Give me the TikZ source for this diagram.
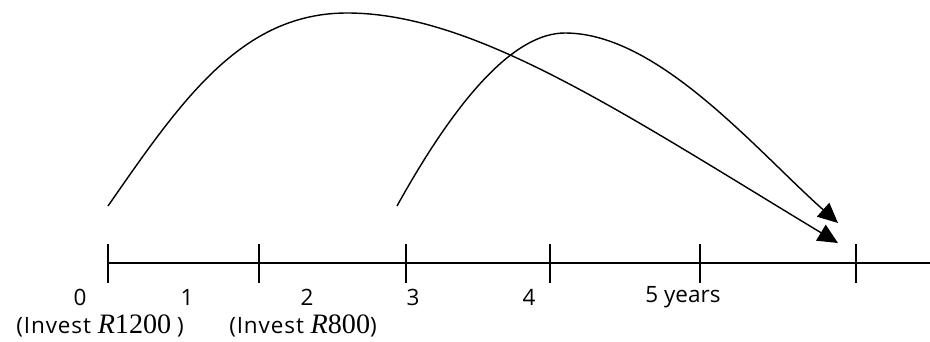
\documentclass[tikz,border=0pt]{standalone}
\usepackage{fontspec}
\setmainfont{Open Sans}
\newfontfamily\amountfont{Liberation Serif}
\newfontfamily\investfont{Open Sans}[LetterSpace=4]
\newcommand{\amount}[1]{{\fontsize{20}{22}\selectfont\amountfont\textit{R}#1}}
\usetikzlibrary{positioning,arrows.meta}

\begin{document}
\begin{tikzpicture}[
  x=0.025cm, y=-0.025cm,
  every node/.style={font=\fontsize{16}{19}\selectfont, inner sep=0pt},
  axisline/.style={line width=1pt, draw=black},
  tick/.style={line width=1pt, draw=black},
  flow/.style={line width=1pt, draw=black, -{Triangle[length=5mm, width=4.6mm]}}
]
\useasboundingbox (0,0) rectangle (930,342);
% time line
\coordinate (t0) at (108,263);
\coordinate (t1) at (259,263);
\coordinate (t2) at (406,263);
\coordinate (t3) at (550,263);
\coordinate (t4) at (700,263);
\coordinate (t5) at (856,263);
\coordinate (tend) at (930,263);
\draw[axisline] (t0) -- (tend);
\foreach \t in {t0,t1,t2,t3,t4,t5}
  \draw[tick] ([yshift=0.475cm]\t) -- ([yshift=-0.5cm]\t);
% labels
\node (l0) at (80,297) {0};
\node (l1) at (187,297) {1};
\node (l2) at (307,297) {2};
\node (l3) at (413,297) {3};
\node (l4) at (529,297) {4};
\node (l5) at (683,297) {5 years};
\node (inv1) at (100,326) {{\investfont(Invest\ }\amount{1200}\ )};
\node (inv2) at (303,326) {{\investfont(Invest\ }\amount{800})};
% growth arcs
\coordinate (s1) at (108,206);
\coordinate (top1) at (347,13);
\coordinate (e1) at (838,243);
\coordinate (s2) at (397,206);
\coordinate (top2) at (565,33);
\coordinate (e2) at (838,223);
\draw[flow] (s1) .. controls (181,101) and (241,13) .. (top1)
  .. controls (475,13) and (623,113) .. (e1);
\draw[flow] (s2) .. controls (458,96) and (515,33) .. (top2)
  .. controls (658,33) and (755,149) .. (e2);
\end{tikzpicture}
\end{document}
